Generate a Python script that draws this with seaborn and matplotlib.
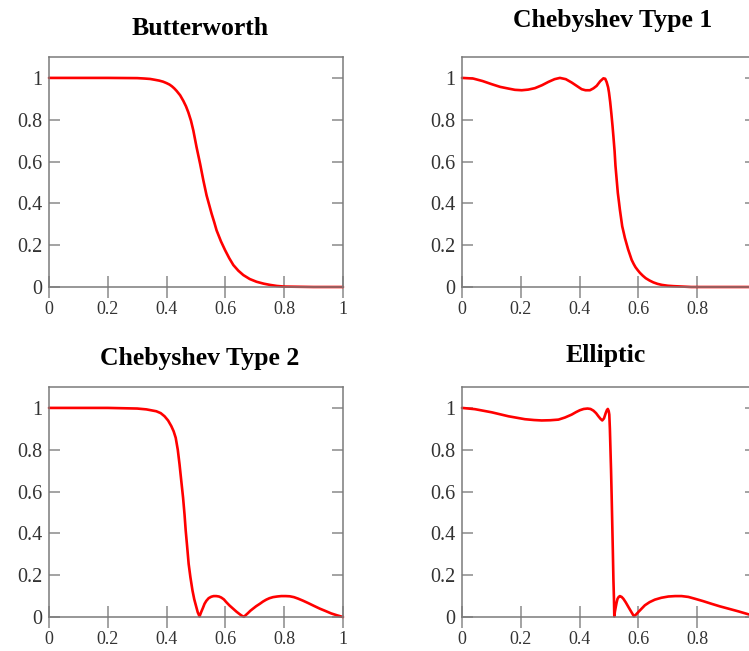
import matplotlib
matplotlib.use("Agg")
import matplotlib.pyplot as plt
import seaborn as sns
import pandas as pd

# ---------------- data ----------------
titles = ["Butterworth", "Chebyshev Type 1", "Chebyshev Type 2", "Elliptic"]

butter_x = [0.0, 0.1, 0.2, 0.3, 0.325, 0.344, 0.360, 0.375, 0.388, 0.4, 0.410,
            0.418, 0.426, 0.434, 0.446, 0.457, 0.466, 0.474, 0.483,
            0.491, 0.502, 0.514, 0.525, 0.536, 0.545, 0.553, 0.562, 0.570, 0.585,
            0.599, 0.613, 0.627, 0.644, 0.661, 0.683, 0.706, 0.730, 0.752, 0.775,
            0.8, 0.9, 1.0]
butter_y = [1.0, 1.0, 1.0, 0.999, 0.997, 0.995, 0.991, 0.987, 0.982, 0.975, 0.968,
            0.960, 0.950, 0.938, 0.917, 0.890, 0.864, 0.835, 0.795,
            0.748, 0.668, 0.589, 0.510, 0.438, 0.392, 0.351, 0.310, 0.271, 0.218,
            0.176, 0.138, 0.105, 0.078, 0.057, 0.038, 0.025, 0.016, 0.010, 0.005,
            0.002, 0.0, 0.0]

cheb1_x = [0.0, 0.038, 0.070, 0.101, 0.130, 0.158, 0.180, 0.203, 0.225, 0.248,
           0.272, 0.294, 0.315, 0.333, 0.353, 0.373, 0.390, 0.407, 0.420, 0.435,
           0.447, 0.458, 0.470, 0.481, 0.487, 0.492, 0.497, 0.500, 0.504, 0.508,
           0.512, 0.515, 0.519, 0.522, 0.526, 0.530, 0.534, 0.537, 0.541, 0.545,
           0.550, 0.554, 0.560, 0.565, 0.571, 0.577, 0.584, 0.590, 0.598, 0.605,
           0.615, 0.625, 0.638, 0.651, 0.665, 0.680, 0.700, 0.720, 0.750, 0.780,
           0.850, 1.0]
cheb1_y = [1.0, 0.997, 0.985, 0.970, 0.957, 0.949, 0.943, 0.941, 0.944, 0.951,
           0.965, 0.981, 0.994, 1.0, 0.994, 0.978, 0.962, 0.946, 0.941, 0.941,
           0.950, 0.962, 0.984, 0.998, 0.996, 0.980, 0.955, 0.930, 0.885, 0.830,
           0.770, 0.720, 0.650, 0.580, 0.515, 0.450, 0.405, 0.370, 0.330, 0.290,
           0.260, 0.235, 0.205, 0.180, 0.155, 0.130, 0.110, 0.095, 0.080, 0.068,
           0.054, 0.042, 0.031, 0.022, 0.015, 0.010, 0.006, 0.004, 0.002, 0.0,
           0.0, 0.0]

cheb2_x = [0.0, 0.1, 0.2, 0.3, 0.331, 0.365, 0.380, 0.393, 0.405, 0.416, 0.424,
           0.431, 0.438, 0.444, 0.450, 0.456, 0.461, 0.465, 0.470, 0.475, 0.481,
           0.488, 0.494, 0.501, 0.506, 0.512, 0.518, 0.524, 0.529, 0.535, 0.543,
           0.552, 0.560, 0.569, 0.578, 0.586, 0.595, 0.603, 0.614, 0.626, 0.638,
           0.649, 0.656, 0.663, 0.670, 0.677, 0.685, 0.694, 0.705, 0.717, 0.728,
           0.739, 0.750, 0.762, 0.776, 0.790, 0.805, 0.819, 0.833, 0.847, 0.864,
           0.881, 0.900, 0.921, 0.940, 0.960, 0.980, 1.0]
cheb2_y = [1.0, 1.0, 1.0, 0.997, 0.993, 0.984, 0.975, 0.960, 0.940, 0.913, 0.888,
           0.857, 0.800, 0.730, 0.650, 0.571, 0.490, 0.413, 0.335, 0.254, 0.190,
           0.127, 0.085, 0.048, 0.022, 0.003, 0.025, 0.045, 0.063, 0.077, 0.090,
           0.097, 0.100, 0.100, 0.098, 0.093, 0.084, 0.071, 0.055, 0.040, 0.025,
           0.013, 0.006, 0.001, 0.010, 0.019, 0.030, 0.040, 0.052, 0.063, 0.074,
           0.083, 0.090, 0.095, 0.098, 0.100, 0.100, 0.099, 0.095, 0.088, 0.078,
           0.067, 0.054, 0.040, 0.029, 0.017, 0.008, 0.0]

ellip_x = [0.0, 0.044, 0.101, 0.158, 0.214, 0.245, 0.271, 0.300, 0.328, 0.350,
           0.373, 0.388, 0.401, 0.414, 0.427, 0.437, 0.447, 0.456, 0.464, 0.471,
           0.477, 0.483, 0.489, 0.493, 0.496, 0.499, 0.501, 0.503, 0.505, 0.507,
           0.509, 0.511, 0.513, 0.515, 0.517, 0.518, 0.520, 0.523, 0.526, 0.529,
           0.533, 0.537, 0.543, 0.549, 0.557, 0.566, 0.576, 0.585, 0.592, 0.600,
           0.611, 0.622, 0.638, 0.656, 0.678, 0.702, 0.725, 0.747, 0.770, 0.793,
           0.820, 0.849, 0.877, 0.906, 0.940, 0.974, 1.0]
ellip_y = [1.0, 0.994, 0.979, 0.960, 0.946, 0.942, 0.940, 0.941, 0.944, 0.954,
           0.968, 0.980, 0.989, 0.995, 0.997, 0.995, 0.987, 0.975, 0.960, 0.948,
           0.940, 0.950, 0.976, 0.990, 0.995, 0.985, 0.968, 0.900, 0.800, 0.700,
           0.580, 0.450, 0.320, 0.180, 0.080, 0.003, 0.025, 0.048, 0.070, 0.087,
           0.096, 0.100, 0.096, 0.087, 0.070, 0.048, 0.024, 0.003, 0.012, 0.024,
           0.040, 0.056, 0.071, 0.083, 0.092, 0.098, 0.100, 0.100, 0.096, 0.087,
           0.076, 0.063, 0.051, 0.040, 0.027, 0.013, 0.004]

tick_vals = [0, 0.2, 0.4, 0.6, 0.8, 1]
tick_labels = ["0", "0.2", "0.4", "0.6", "0.8", "1"]

series = [(butter_x, butter_y), (cheb1_x, cheb1_y), (cheb2_x, cheb2_y), (ellip_x, ellip_y)]

# ---------------- style ----------------
sns.set_style("white")
plt.rcParams["font.family"] = ["Liberation Serif", "DejaVu Serif"]

W, H = 749, 651
fig = plt.figure(figsize=(W / 100, H / 100), dpi=100)

# axes boxes in pixels: (left, top, right, bottom)
boxes = [(49, 57, 343, 287), (462, 57, 756, 287),
         (49, 387, 343, 617), (462, 387, 756, 617)]
# title positions in pixels (center x, baseline y)
title_pos = [(200, 35), (613, 27), (200, 365), (606, 362)]

spine_col = "#7a7a7a"
tick_col = "#8a8a8a"

for i, ((xs, ys), title) in enumerate(zip(series, titles)):
    l, t, r, b = boxes[i]
    ax = fig.add_axes([l / W, 1 - b / H, (r - l) / W, (b - t) / H])
    df = pd.DataFrame({"f": xs, "mag": ys})
    sns.lineplot(data=df, x="f", y="mag", ax=ax, color="#ff0000", linewidth=1.9,
                 estimator=None, sort=False)
    for ln in ax.lines:
        ln.set_clip_on(False)
        ln.set_zorder(1.5)
    ax.set_xlim(0, 1)
    ax.set_ylim(0, 1.1)
    ax.set_xlabel("")
    ax.set_ylabel("")
    ax.set_xticks(tick_vals)
    ax.set_xticklabels(tick_labels)
    ax.set_yticks(tick_vals)
    ax.set_yticklabels(tick_labels)
    for s in ax.spines.values():
        s.set_color(spine_col)
        s.set_linewidth(1.1)
        s.set_visible(True)
    ax.tick_params(axis="x", direction="inout", length=16.5, width=1.1,
                   color=tick_col, labelsize=13, labelcolor="#333333", pad=2,
                   top=False, bottom=True)
    ax.tick_params(axis="y", direction="in", length=8, width=1.1,
                   color=tick_col, labelsize=14.5, labelcolor="#333333", pad=5,
                   left=True, right=True, labelright=False)
    if r > W:
        # the reference image is cropped at its right edge: the last x label is not shown
        ax.get_xticklabels()[-1].set_visible(False)
    fig.text(title_pos[i][0] / W, 1 - title_pos[i][1] / H, title,
             ha="center", va="baseline", fontsize=18.5, fontweight="bold",
             color="black")

fig.savefig("out.png", dpi=100)
